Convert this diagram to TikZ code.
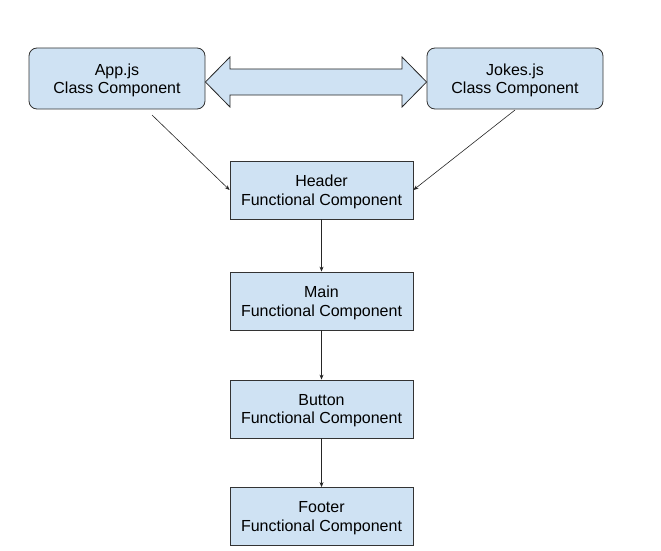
\documentclass[tikz,border=0pt]{standalone}
\usepackage{fontspec}
\setmainfont{Liberation Sans}
\usetikzlibrary{arrows.meta}
\definecolor{boxblue}{HTML}{CFE2F3}
\begin{document}
\begin{tikzpicture}[x=1pt,y=-1pt,
  cls/.style={draw=black!80,fill=boxblue,rounded corners=8pt,minimum width=176pt,minimum height=61pt,align=center,font=\fontsize{16}{18.5}\selectfont,line width=0.8pt,inner sep=0pt,text depth=0pt},
  fn/.style={draw=black!80,fill=boxblue,minimum width=183pt,minimum height=58pt,align=center,font=\fontsize{16}{18.5}\selectfont,line width=0.8pt,inner sep=0pt,text depth=0pt},
  conn/.style={draw=black!85,line width=0.6pt,-{Stealth[length=5pt,width=4pt]}}]
\useasboundingbox (0,0) rectangle (661,551);
\node[cls] (app) at (117,78.5) {App.js\\Class Component};
\node[cls] (jokes) at (515,78.5) {Jokes.js\\Class Component};
\node[fn] (header) at (321.5,190) {Header\\Functional Component};
\node[fn] (main) at (321.5,301) {Main\\Functional Component};
\node[fn] (button) at (321.5,409) {Button\\Functional Component};
\node[fn] (footer) at (321.5,516.5) {Footer\\Functional Component};
% double arrow
\draw[fill=boxblue,draw=black!85,line width=0.8pt] (app.east |- 0,82) -- (230,57) -- (230,69) -- (402,69) -- (402,57) -- (jokes.west |- 0,82) -- (402,107) -- (402,95) -- (230,95) -- (230,107) -- cycle;
\coordinate (a1) at (152,115);
\coordinate (j1) at (515,110);
\draw[conn] (a1) -- (header.west |- 0,190);
\draw[conn] (j1) -- (header.east |- 0,190);
\draw[conn] (header) -- (main);
\draw[conn] (main) -- (button);
\draw[conn] (button) -- (footer);
\end{tikzpicture}
\end{document}
